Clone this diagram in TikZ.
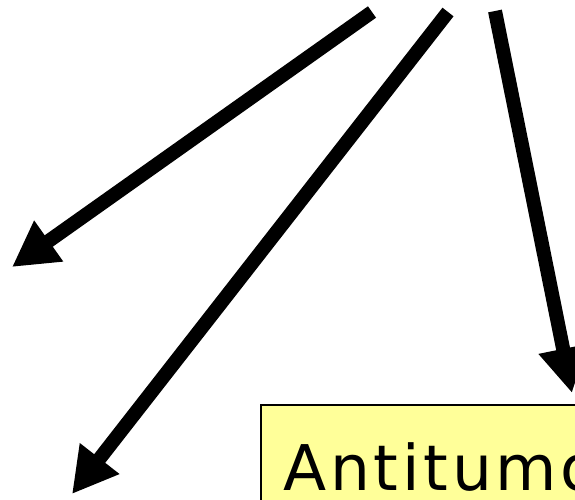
\documentclass[tikz,border=0pt]{standalone}
\usepackage{fontspec}
\setmainfont{DejaVu Sans}[LetterSpace=6]
\usetikzlibrary{arrows.meta}
\definecolor{noteyellow}{HTML}{FFFF99}
\begin{document}
\begin{tikzpicture}[x=1pt,y=-1pt,
  bigarrow/.style={line width=14pt, line cap=butt, -{Triangle[length=45pt,width=47pt]}},
  notebox/.style={draw=black, line width=2pt, fill=noteyellow}]
\useasboundingbox (0,0) rectangle (575,499);
\clip (0,0) rectangle (575,499);
\coordinate (s1) at (372,12);
\coordinate (t1) at (12,267);
\coordinate (s2) at (448,12);
\coordinate (t2) at (72,494);
\coordinate (s3) at (495,11);
\coordinate (t3) at (572,393);
\draw[bigarrow] (s1) -- (t1);
\draw[bigarrow] (s2) -- (t2);
\draw[bigarrow] (s3) -- (t3);
\coordinate (b1) at (261,405);
\coordinate (b2) at (640,560);
\draw[notebox] (b1) rectangle (b2);
\node[anchor=base west, inner sep=0pt, font=\fontsize{63}{70}\selectfont] (label) at (283,490) {Antitumor};
\end{tikzpicture}
\end{document}
